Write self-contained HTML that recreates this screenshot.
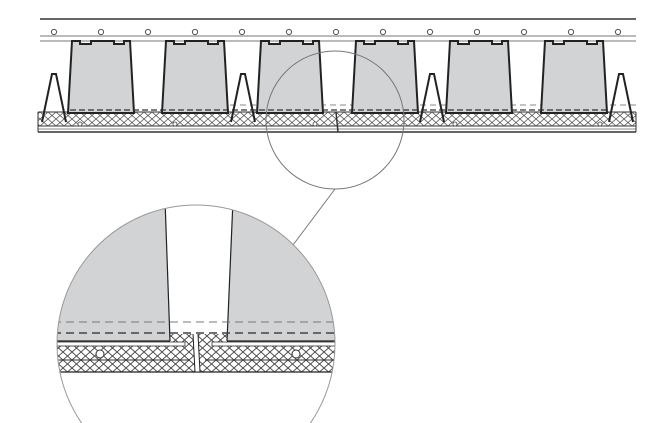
<!DOCTYPE html>
<html><head><meta charset="utf-8"><style>html,body{margin:0;padding:0;background:#fff;width:654px;height:423px;overflow:hidden}svg{display:block}</style></head>
<body>
<svg width="654" height="423" viewBox="0 0 654 423" xmlns="http://www.w3.org/2000/svg">
<defs>
<pattern id="h" width="8" height="7" patternUnits="userSpaceOnUse">
<path d="M0,0 L8,7 M8,0 L0,7" stroke="#555" stroke-width="0.8"/>
</pattern>
<pattern id="h2" width="9" height="8" patternUnits="userSpaceOnUse">
<path d="M0,0 L9,8 M9,0 L0,8" stroke="#444" stroke-width="0.9"/>
</pattern>
<clipPath id="c"><circle cx="196" cy="344" r="139"/></clipPath>
</defs>
<line x1="40" y1="19" x2="636" y2="19" stroke="#333" stroke-width="1.5"/>
<line x1="40" y1="36" x2="636" y2="36" stroke="#777" stroke-width="1"/>
<line x1="40" y1="41" x2="636" y2="41" stroke="#777" stroke-width="1"/>
<g fill="#fff" stroke="#555" stroke-width="1">
<circle cx="54" cy="32" r="2.6"/><circle cx="101" cy="32" r="2.6"/><circle cx="148" cy="32" r="2.6"/><circle cx="195" cy="32" r="2.6"/><circle cx="242" cy="32" r="2.6"/><circle cx="289" cy="32" r="2.6"/><circle cx="336" cy="32" r="2.6"/><circle cx="383" cy="32" r="2.6"/><circle cx="430" cy="32" r="2.6"/><circle cx="477" cy="32" r="2.6"/><circle cx="524" cy="32" r="2.6"/><circle cx="571" cy="32" r="2.6"/><circle cx="618" cy="32" r="2.6"/>
</g>
<rect x="38" y="112" width="598" height="20" fill="#fff"/>
<rect x="38" y="112" width="598" height="14" fill="url(#h)"/>
<g stroke="#333" stroke-width="1">
<line x1="38" y1="112" x2="636" y2="112"/>
<line x1="38" y1="126" x2="636" y2="126"/>
<line x1="38" y1="129" x2="636" y2="129" stroke="#888"/>
<line x1="38" y1="132" x2="636" y2="132" stroke-width="1.5"/>
<line x1="38" y1="112" x2="38" y2="132"/><line x1="636" y1="112" x2="636" y2="132"/>
<line x1="336" y1="112" x2="338" y2="132" stroke-width="1.5"/>
</g>
<line x1="190" y1="105" x2="636" y2="105" stroke="#888" stroke-dasharray="6,4"/>
<g fill="#d2d3d5" stroke="#222" stroke-width="2">
<path d="M68,113 L72,41 L80,41 L80,44 L91,44 L91,41 L114,41 L114,44 L124,44 L124,41 L130,41 L134,113 Z"/>
<path d="M162,113 L166,41 L174,41 L174,44 L185,44 L185,41 L208,41 L208,44 L218,44 L218,41 L224,41 L228,113 Z"/>
<path d="M257,113 L261,41 L269,41 L269,44 L280,44 L280,41 L303,41 L303,44 L313,44 L313,41 L319,41 L323,113 Z"/>
<path d="M352,113 L356,41 L364,41 L364,44 L375,44 L375,41 L398,41 L398,44 L408,44 L408,41 L414,41 L418,113 Z"/>
<path d="M446,113 L450,41 L458,41 L458,44 L469,44 L469,41 L492,41 L492,44 L502,44 L502,41 L508,41 L512,113 Z"/>
<path d="M541,113 L545,41 L553,41 L553,44 L564,44 L564,41 L587,41 L587,44 L597,44 L597,41 L603,41 L607,113 Z"/>
</g>
<g stroke="#333" stroke-dasharray="6,3" stroke-width="1.3">
<line x1="70" y1="110" x2="606" y2="110"/>
</g>
<g fill="none" stroke="#222" stroke-width="2">
<path d="M42,122 L52,74 L56,74 L66,122"/>
<path d="M231,122 L241,74 L245,74 L255,122"/>
<path d="M420,122 L430,74 L434,74 L444,122"/>
<path d="M609,122 L619,74 L623,74 L633,122"/>
</g>
<g fill="#fff" stroke="#444" stroke-width="0.8">
<circle cx="80" cy="124" r="2"/><circle cx="175" cy="124" r="2"/><circle cx="315" cy="124" r="2"/><circle cx="455" cy="124" r="2"/><circle cx="600" cy="124" r="2"/>
</g>
<circle cx="335" cy="120" r="69" fill="none" stroke="#777" stroke-width="1"/>
<line x1="335" y1="189" x2="293" y2="245" stroke="#777" stroke-width="1"/>
<g clip-path="url(#c)">
<rect x="0" y="190" width="400" height="240" fill="#fff"/>
<path d="M40,200 L165,200 L170,341 L40,341 Z" fill="#d2d3d5"/>
<path d="M233,200 L350,200 L350,341 L227,341 Z" fill="#d2d3d5"/>
<line x1="165" y1="200" x2="170" y2="341" stroke="#222" stroke-width="1.2"/>
<line x1="233" y1="200" x2="227" y2="341" stroke="#222" stroke-width="1.2"/>
<line x1="40" y1="322" x2="350" y2="322" stroke="#777" stroke-dasharray="8,5"/>
<line x1="40" y1="333" x2="350" y2="333" stroke="#444" stroke-width="1.5" stroke-dasharray="8,5"/>
<rect x="40" y="341" width="320" height="31" fill="url(#h2)"/>
<rect x="170" y="334" width="57" height="8" fill="url(#h2)"/>
<rect x="40" y="342" width="145" height="4" fill="#fff" stroke="#333" stroke-width="0.8"/>
<rect x="212" y="342" width="150" height="4" fill="#fff" stroke="#333" stroke-width="0.8"/>
<line x1="40" y1="360" x2="190" y2="360" stroke="#333" stroke-width="1"/>
<line x1="205" y1="360" x2="360" y2="360" stroke="#333" stroke-width="1"/>
<line x1="40" y1="341" x2="170" y2="341" stroke="#222" stroke-width="1.2"/>
<line x1="227" y1="341" x2="360" y2="341" stroke="#222" stroke-width="1.2"/>
<line x1="40" y1="372" x2="360" y2="372" stroke="#222" stroke-width="1.3"/>
<path d="M193,334 L195,372 L200,372 L198,334" fill="#fff" stroke="#222" stroke-width="1"/>
<circle cx="100" cy="354" r="4" fill="#fff" stroke="#333"/>
<circle cx="296" cy="354" r="4" fill="#fff" stroke="#333"/>
</g>
<circle cx="196" cy="344" r="139" fill="none" stroke="#999" stroke-width="1"/>
</svg>
</body></html>
